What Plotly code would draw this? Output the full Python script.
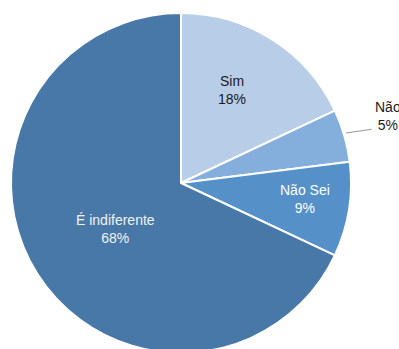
import plotly.graph_objects as go

labels = ["Sim", "Não", "Não Sei", "É indiferente"]
values = [18, 5, 9, 68]
colors = ["#b8cde8", "#84aedb", "#5590c8", "#4778a8"]
text_colors = ["#1a1a1a", "#1a1a1a", "#ffffff", "#f2f2f2"]
# label block centers (pixels) in the window
label_pos = [(232, 89.5), (388, 115.5), (305, 199), (115.5, 228.5)]

W, H = 399, 366
cx, cy, r = 181, 183, 170
FONT = "Liberation Sans, Arial, Helvetica, sans-serif"

fig = go.Figure(go.Pie(
    labels=labels, values=values, sort=False, direction="clockwise", rotation=0,
    marker=dict(colors=colors, line=dict(color="white", width=2)),
    textinfo="none",
    domain=dict(x=[(cx - r) / W, (cx + r) / W], y=[1 - (cy + r) / H, 1 - (cy - r) / H]),
    showlegend=False, hoverinfo="skip",
))

total = sum(values)
for lab, val, col, (px, py) in zip(labels, values, text_colors, label_pos):
    fig.add_annotation(
        x=px / W, y=1 - py / H, xref="paper", yref="paper",
        text=f"{lab}<br>{round(100 * val / total)}%",
        showarrow=False, xanchor="center", yanchor="middle",
        font=dict(family=FONT, size=14, color=col),
    )

# leader line for the small outside label
fig.add_annotation(
    x=346 / W, y=1 - 133 / H, xref="paper", yref="paper",
    text="", showarrow=True, arrowhead=0, arrowwidth=1.2, arrowcolor="#9a9a9a",
    ax=27, ay=-4, standoff=0, startstandoff=0,
)

fig.update_layout(width=W, height=H, margin=dict(l=0, r=0, t=0, b=0),
                  paper_bgcolor="white", plot_bgcolor="white")
fig.write_html("out.html", post_script="document.body.style.overflow='hidden';document.documentElement.style.overflow='hidden';document.body.style.margin='0';")
